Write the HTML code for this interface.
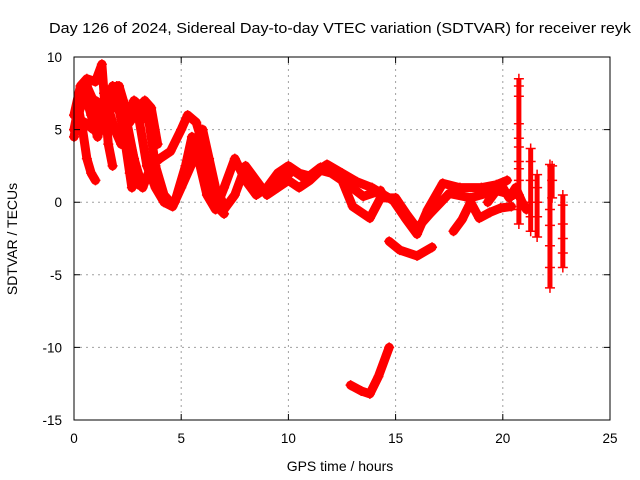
<!DOCTYPE html>
<html><head><meta charset="utf-8"><style>
body{margin:0;background:#fff;}
svg{display:block;font-family:"Liberation Sans",sans-serif;}
</style></head><body>
<svg id="chart" width="640" height="480">
<rect x="0" y="0" width="640" height="480" fill="#fff"/>
<g id="grid"></g>
<g id="series"></g>
<rect x="74" y="57" width="536" height="363" fill="none" stroke="#000" stroke-width="1"/>
<g id="axes"></g>
<text x="340" y="33" text-anchor="middle" font-size="15" textLength="582" lengthAdjust="spacingAndGlyphs">Day 126 of 2024, Sidereal Day-to-day VTEC variation (SDTVAR) for receiver reyk</text>
<text x="340" y="471" text-anchor="middle" font-size="14">GPS time / hours</text>
<text transform="translate(17,239) rotate(-90)" text-anchor="middle" font-size="14">SDTVAR / TECUs</text>
</svg>
<script>
const xTicks=[0,5,10,15,20,25];
const yTicks=[10,5,0,-5,-10,-15];
const track1=[[0,5],[0.2,6.5],[0.4,5],[0.6,3],[0.8,2],[1.0,1.5]];
const track2=[[0,6],[0.3,8],[0.6,8.5],[1.0,8.3],[1.3,9.5],[1.4,7.5],[1.6,4],[1.8,2.5]];
const track3=[[0.5,5.5],[0.9,5],[1.2,6.5],[1.5,5.5],[1.8,8],[2.0,7],[2.3,5],[2.6,2],[2.7,1]];
const track4=[[1.0,7],[1.5,6.5],[2.0,6.5],[2.5,6],[2.8,7],[3.2,6.5],[3.5,5.5],[3.8,2.5],[4.2,0.5],[4.5,0]];
const track5=[[2.0,8],[2.4,6],[2.8,3],[3.2,1],[3.6,2.5],[4.0,3],[4.5,3.5],[5.0,5],[5.3,6],[5.7,5.5],[6.0,4],[6.5,1],[6.8,-0.5],[7.0,-0.8]];
const track6=[[3,6],[3.4,2.5],[3.8,1],[4.2,0],[4.6,-0.3],[5.0,1],[5.6,3],[6.0,5],[6.3,3],[6.6,1],[7,-0.2]];
const track7=[[4.7,0],[5.2,2.5],[5.5,4.5],[5.8,3],[6.2,0.5],[6.6,-0.5],[7.0,1],[7.5,3],[8,1.5],[8.5,0.5],[9,1],[9.5,2],[10,2.5],[10.5,2],[11,1.8],[11.8,2.6],[12.5,2],[13.2,1.4],[13.9,1.0],[14.9,0.1],[15.5,-1.2],[16,-2.2],[16.5,-0.5],[17.2,1.3],[18,1],[19,1],[19.7,1.2],[20.2,1.5]];
const track8=[[6,2],[6.5,0.2],[7,-0.5],[7.5,0.5],[8,2.5],[8.5,1.5],[9,0.5],[9.5,1],[10,1.5],[10.5,1],[11,1.5],[11.5,2.2],[12,2],[12.5,1.5],[13,-0.3],[13.8,-1.1],[14.3,0.3],[15,0.3],[15.5,-0.8],[16,-1.8],[16.6,-0.8],[17.5,0.6],[18.5,0.3],[19.7,0.8],[20.5,0.5]];
const track9=[[9.6,1.3],[10.2,2.2],[10.8,1.6],[11.5,2.4],[12.2,2.0],[12.8,1.2],[13.5,0.4],[14.3,0.8]];
const track10=[[14.7,-2.7],[15.2,-3.3],[16,-3.7],[16.7,-3.1]];
const track11=[[17.7,-2],[18.1,-1.2],[18.5,0],[18.9,-1.1],[19.4,-0.7],[19.9,-0.4],[20.4,-0.3]];
const track12=[[12.9,-12.6],[13.4,-13.0],[13.8,-13.2],[14.2,-12],[14.7,-10]];
const track13=[[0,4.5],[0.2,6],[0.5,7.5],[0.8,6],[1.1,4.5],[1.3,5.5],[1.6,6.5],[1.9,5],[2.2,4],[2.5,5],[2.8,3],[3.0,1.2]];
const track14=[[0.6,8],[0.9,7],[1.2,6],[1.5,6],[1.8,7],[2.1,8],[2.3,7],[2.6,5.5],[3,6.5],[3.3,7],[3.6,6.5],[3.9,4]];
const track15=[[19.3,0],[19.7,0.8],[20,1],[20.3,0.3],[20.6,1],[20.9,0],[21.1,-0.5]];
const spike1=[[20.75,8.5],[20.75,8.0],[20.75,7.3],[20.75,5.4],[20.75,4.4],[20.75,3.8],[20.75,2.8],[20.75,2.3],[20.75,1.5],[20.75,0.5],[20.75,-0.5],[20.75,-1.5]];
const spike2=[[21.3,3.7],[21.3,2.8],[21.3,1.5],[21.3,0],[21.3,-1],[21.3,-2]];
const spike3=[[21.6,1.9],[21.6,1],[21.6,0],[21.6,-1],[21.6,-2.4]];
const spike4=[[22.2,2.6],[22.2,-0.5],[22.2,-1.6],[22.2,-3],[22.2,-4.5],[22.2,-5.9]];
const spike5=[[22.3,2.5],[22.3,1.5],[22.3,0.3]];
const spike6=[[22.8,0.5],[22.8,-0.2],[22.8,-1.5],[22.8,-2.5],[22.8,-3.5],[22.8,-4.5]];
const tracks=[track1,track2,track3,track4,track5,track6,track7,track8,track9,track10,track11,track12,track13,track14,track15];
const spikes=[spike1,spike2,spike3,spike4,spike5,spike6];

const X0=74,X1=610,Y0=420,Y1=57;
const xs=t=>X0+(t-0)/(25-0)*(X1-X0);
const ys=v=>Y0-(v+15)/(10+15)*(Y0-Y1);
const NS='http://www.w3.org/2000/svg';
const mk=(n,a)=>{const e=document.createElementNS(NS,n);for(const k in a)e.setAttribute(k,a[k]);return e;};
const grid=document.getElementById('grid'),axes=document.getElementById('axes'),ser=document.getElementById('series');
xTicks.forEach(t=>{
 const x=xs(t);
 if(t>0&&t<25){const g=mk('line',{x1:x,x2:x,y1:Y1,y2:Y0,stroke:'#a0a0a0','stroke-dasharray':'2,4'});
 
 grid.appendChild(g);}
 const tk=mk('path',{d:`M${x},${Y0}v-6M${x},${Y1}v6`,stroke:'#000'});
 
 axes.appendChild(tk);
 const l=mk('text',{x:x,y:443,'text-anchor':'middle','font-size':'13.5'});l.textContent=t;
 
 axes.appendChild(l);
});
yTicks.forEach(v=>{
 const y=ys(v);
 if(v>-15&&v<10){const g=mk('line',{x1:X0,x2:X1,y1:y,y2:y,stroke:'#a0a0a0','stroke-dasharray':'2,4'});
 
 grid.appendChild(g);}
 const tk=mk('path',{d:`M${X0},${y}h6M${X1},${y}h-6`,stroke:'#000'});
 
 axes.appendChild(tk);
 const l=mk('text',{x:62,y:y+5,'text-anchor':'end','font-size':'13.5'});l.textContent=v;
 
 axes.appendChild(l);
});
function plus(t,v){
 const x=xs(t),y=ys(v);
 const p=mk('path',{d:`M${x-5},${y}h10M${x},${y-5}v10`,stroke:'#f00','stroke-width':'1.5'});
 
 
 ser.appendChild(p);
}
tracks.forEach(tr=>{
 const pl=mk('polyline',{points:tr.map(p=>xs(p[0])+','+ys(p[1])).join(' '),fill:'none',stroke:'#f00','stroke-width':'9','stroke-linejoin':'round','stroke-linecap':'round'});
 
 
 ser.appendChild(pl);
 tr.forEach(p=>plus(p[0],p[1]));
});
spikes.forEach(sp=>{
 const pl=mk('polyline',{points:sp.map(p=>xs(p[0])+','+ys(p[1])).join(' '),fill:'none',stroke:'#f00','stroke-width':'5'});
 
 
 ser.appendChild(pl);
 sp.forEach(p=>plus(p[0],p[1]));
});
</script>
</body></html>
